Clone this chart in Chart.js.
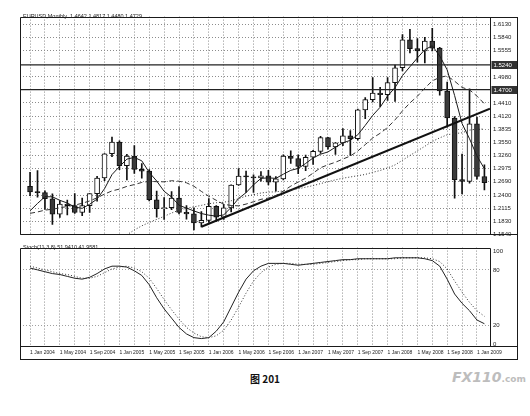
<!DOCTYPE html>
<html><head><meta charset="utf-8">
<script src="https://cdn.jsdelivr.net/npm/chart.js@4.4.1/dist/chart.umd.min.js"></script>
<style>
html,body{margin:0;padding:0;background:#fff;width:530px;height:416px;overflow:hidden;font-family:"Liberation Sans",Arial,sans-serif;}
#c1{position:absolute;left:19px;top:10px;}
#c2{position:absolute;left:19px;top:241px;}
.ttl{position:absolute;font-size:5.5px;line-height:6px;color:#222;white-space:nowrap;}
#cap{position:absolute;left:0;width:530px;top:371px;text-align:center;font:bold 10px "Noto Sans CJK SC",sans-serif;color:#111;}
#wm{position:absolute;left:452px;top:369px;font:bold italic 14px "DejaVu Sans",sans-serif;color:#bdbdbd;white-space:nowrap;}
#wm span{font-size:9px;font-style:normal;}
</style></head>
<body>
<canvas id="c1" width="499" height="231"></canvas>
<canvas id="c2" width="499" height="119"></canvas>
<div class="ttl" style="left:23px;top:13px;">EURUSD,Monthly&nbsp; 1.4642 1.4817 1.4480 1.4729</div>
<div class="ttl" style="left:23px;top:244px;">Stoch(11,3,8) 51.9410 41.9581</div>
<div id="cap">图 201</div>
<div id="wm">FX110<span>.com</span></div>
<script>
const months = ['Jan 2004','Feb 2004','Mar 2004','Apr 2004','May 2004','Jun 2004','Jul 2004','Aug 2004','Sep 2004','Oct 2004','Nov 2004','Dec 2004',
'Jan 2005','Feb 2005','Mar 2005','Apr 2005','May 2005','Jun 2005','Jul 2005','Aug 2005','Sep 2005','Oct 2005','Nov 2005','Dec 2005',
'Jan 2006','Feb 2006','Mar 2006','Apr 2006','May 2006','Jun 2006','Jul 2006','Aug 2006','Sep 2006','Oct 2006','Nov 2006','Dec 2006',
'Jan 2007','Feb 2007','Mar 2007','Apr 2007','May 2007','Jun 2007','Jul 2007','Aug 2007','Sep 2007','Oct 2007','Nov 2007','Dec 2007',
'Jan 2008','Feb 2008','Mar 2008','Apr 2008','May 2008','Jun 2008','Jul 2008','Aug 2008','Sep 2008','Oct 2008','Nov 2008','Dec 2008',
'Jan 2009','Feb 2009'];
const open = [1.2592,1.2466,1.2452,1.2318,1.1981,1.2203,1.2170,1.2018,1.2169,1.2431,1.2772,1.3302,
1.3554,1.3040,1.3252,1.2959,1.2923,1.2296,1.2100,1.2126,1.2335,1.2022,1.1989,1.1790,
1.1845,1.2155,1.1915,1.2118,1.2619,1.2812,1.2795,1.2771,1.2818,1.2678,1.2752,1.3249,
1.3198,1.3023,1.3225,1.3354,1.3654,1.3451,1.3540,1.3695,1.3628,1.4259,1.4482,1.4626,
1.4589,1.4854,1.5180,1.5788,1.5595,1.5545,1.5760,1.5609,1.4672,1.4081,1.2736,1.2697,
1.3953,1.2805];
const high = [1.2897,1.2932,1.2494,1.2428,1.2273,1.2290,1.2430,1.2334,1.2433,1.2810,1.3306,1.3667,
1.3583,1.3287,1.3479,1.3087,1.2958,1.2487,1.2345,1.2475,1.2586,1.2168,1.2118,1.2040,
1.2323,1.2170,1.2195,1.2624,1.2979,1.2923,1.2843,1.2914,1.2938,1.2804,1.3280,1.3367,
1.3280,1.3271,1.3374,1.3682,1.3660,1.3545,1.3853,1.3806,1.4279,1.4527,1.4967,1.4752,
1.4964,1.5240,1.5905,1.6019,1.5817,1.5843,1.6038,1.5624,1.4866,1.4115,1.3295,1.4719,
1.4100,1.3061];
const low = [1.2388,1.2354,1.2083,1.1760,1.1910,1.1968,1.2000,1.1951,1.2019,1.2268,1.2715,1.3236,
1.2955,1.2727,1.2871,1.2770,1.2273,1.1917,1.1869,1.2079,1.1986,1.1875,1.1640,1.1706,
1.1801,1.1825,1.1865,1.2031,1.2612,1.2456,1.2458,1.2705,1.2622,1.2483,1.2732,1.3091,
1.2864,1.2932,1.3067,1.3309,1.3401,1.3286,1.3476,1.3262,1.3595,1.4068,1.4431,1.4327,
1.4465,1.4442,1.5109,1.5505,1.5302,1.5286,1.5546,1.4579,1.3881,1.2329,1.2423,1.2661,
1.2748,1.2513];
const close = [1.2466,1.2452,1.2318,1.1981,1.2203,1.2170,1.2018,1.2169,1.2431,1.2772,1.3302,1.3554,
1.3040,1.3252,1.2959,1.2923,1.2296,1.2100,1.2126,1.2335,1.2022,1.1989,1.1790,1.1845,
1.2155,1.1915,1.2118,1.2619,1.2812,1.2795,1.2771,1.2818,1.2678,1.2752,1.3249,1.3198,
1.3023,1.3225,1.3354,1.3654,1.3451,1.3540,1.3695,1.3628,1.4259,1.4482,1.4626,1.4589,
1.4854,1.5180,1.5788,1.5595,1.5545,1.5760,1.5609,1.4672,1.4081,1.2736,1.2697,1.3953,
1.2805,1.2669];
const maFast = [1.2055,1.2216,1.2363,1.2361,1.2284,1.2225,1.2138,1.2108,1.2198,1.2312,1.2538,1.2846,
1.3020,1.3184,1.3221,1.3146,1.2894,1.2706,1.2481,1.2356,1.2176,1.2114,1.2052,1.1996,
1.1960,1.1939,1.1965,1.2130,1.2324,1.2452,1.2623,1.2763,1.2775,1.2763,1.2854,1.2939,
1.2980,1.3089,1.3210,1.3291,1.3341,1.3445,1.3539,1.3594,1.3715,1.3921,1.4138,1.4317,
1.4562,1.4746,1.5007,1.5201,1.5392,1.5574,1.5659,1.5436,1.5133,1.4572,1.3959,1.3628,
1.3254,1.2972];
const maMid = [1.2000,1.2030,1.2070,1.2090,1.2120,1.2150,1.2180,1.2220,1.2270,1.2340,1.2420,1.2490,
1.2529,1.2589,1.2628,1.2675,1.2699,1.2691,1.2688,1.2712,1.2701,1.2667,1.2591,1.2479,
1.2372,1.2285,1.2198,1.2172,1.2163,1.2202,1.2253,1.2306,1.2333,1.2389,1.2486,1.2594,
1.2685,1.2767,1.2878,1.2996,1.3060,1.3116,1.3185,1.3251,1.3362,1.3501,1.3645,1.3748,
1.3875,1.4041,1.4238,1.4411,1.4556,1.4734,1.4893,1.4968,1.5003,1.4886,1.4749,1.4697,
1.4560,1.4392];
const maSlow = [null,null,null,null,null,null,null,null,null,null,null,null,
1.1405,1.1530,1.1637,1.1727,1.1801,1.1868,1.1934,1.2007,1.2068,1.2112,1.2142,1.2174,
1.2210,1.2232,1.2242,1.2275,1.2321,1.2375,1.2408,1.2444,1.2464,1.2469,1.2492,1.2514,
1.2535,1.2571,1.2605,1.2649,1.2691,1.2731,1.2768,1.2794,1.2822,1.2849,1.2896,1.2935,
1.2991,1.3057,1.3160,1.3263,1.3363,1.3464,1.3569,1.3648,1.3716,1.3742,1.3758,1.3818,
1.3838,1.3840];
const stochMain = [82,80,78,76,75,73,71,70,72,76,81,84,
84,83,79,74,64,50,38,28,18,11,7,6,
7,14,24,40,56,70,79,84,87,87,87,86,
85,86,87,88,89,90,91,91,92,92,92,92,
92,93,93,93,93,92,90,84,70,54,44,36,
26,22];
const stochSignal = [84,82,80,78,76,75,73,71,71,73,77,81,
83,84,82,78,71,60,48,37,27,18,12,8,
7,9,15,26,40,55,68,77,83,86,87,87,
86,86,86,87,88,89,90,91,91,92,92,92,
92,92,93,93,93,93,92,89,81,68,56,45,
36,30];
const priceTicks = [1.1540,1.1830,1.2115,1.2400,1.2690,1.2975,1.3260,1.3550,1.3835,1.4120,1.4410,1.4980,1.5555,1.5840,1.6130];
const levelLines = [1.5240,1.4700];
const trendX = [23,61.75];
const trendY = [1.1706,1.4286];
const stochTicks = [0,20,80,100];
const gridMonths = [0,2,4,6,8,10,12,14,16,18,20,22,24,26,28,30,32,34,36,38,40,42,44,46,48,50,52,54,56,58,60];
const labelEvery = 4;
const X_MIN = -1.35, X_MAX = 61.75;

const FONT = 'Liberation Sans';
const pts = arr => arr.map((v,i)=>({x:i,y:v}));

function framePlugin(isTop){
  return {id:'frame'+(isTop?1:2), afterDraw(chart){
    const {ctx, chartArea:a, width, height} = chart;
    const l=Math.round(a.left)+0.5, t=Math.round(a.top)+0.5, r=Math.round(a.right)+0.5, b=Math.round(a.bottom)+0.5;
    ctx.save();
    ctx.strokeStyle='#1a1a1a'; ctx.lineWidth=1;
    ctx.beginPath();
    ctx.moveTo(l,t); ctx.lineTo(isTop?width:r,t);
    ctx.moveTo(l,t); ctx.lineTo(l,isTop?b:height);
    ctx.moveTo(l,b); ctx.lineTo(width,b);
    ctx.moveTo(r,t); ctx.lineTo(r,b);
    ctx.moveTo(width-0.5,isTop?t:0); ctx.lineTo(width-0.5,height);
    if(!isTop){ ctx.moveTo(l,height-0.5); ctx.lineTo(width,height-0.5); }
    ctx.stroke();
    if(isTop){
      const y = chart.scales.y;
      ctx.font = '6px "'+FONT+'"';
      ctx.textBaseline='middle';
      levelLines.forEach(v=>{
        const py = Math.round(y.getPixelForValue(v));
        ctx.fillStyle='#333';
        ctx.fillRect(r+1, py-4, width-r-2, 8);
        ctx.fillStyle='#fff';
        ctx.fillText(v.toFixed(4), r+3, py+0.5);
      });
    }
    ctx.restore();
  }};
}

const xCommon = {
  type:'linear', min:X_MIN, max:X_MAX, offset:false,
  afterBuildTicks: s => { s.ticks = gridMonths.map(v=>({value:v})); },
  grid:{offset:false, color:'#8c8c8c', lineWidth:1, drawTicks:false},
  border:{display:false, dash:[1,2]}
};

new Chart(document.getElementById('c1'), {
  type:'bar',
  data:{datasets:[
    {type:'line', data:pts(maFast), borderColor:'#1a1a1a', borderWidth:1, pointRadius:0, tension:0, order:0},
    {type:'line', data:pts(maMid), borderColor:'#333', borderWidth:1, borderDash:[5,3], pointRadius:0, tension:0, order:0},
    {type:'line', data:pts(maSlow), borderColor:'#333', borderWidth:1, borderDash:[1,2], pointRadius:0, tension:0, order:0, spanGaps:false},
    {type:'line', data:trendX.map((x,i)=>({x:x,y:trendY[i]})), borderColor:'#111', borderWidth:2.2, pointRadius:0, order:0},
    {type:'line', data:[{x:X_MIN,y:levelLines[0]},{x:X_MAX,y:levelLines[0]}], borderColor:'#222', borderWidth:1.2, pointRadius:0, order:0},
    {type:'line', data:[{x:X_MIN,y:levelLines[1]},{x:X_MAX,y:levelLines[1]}], borderColor:'#222', borderWidth:1.2, pointRadius:0, order:0},
    {type:'bar', data:open.map((o,i)=>({x:i,y:[o,close[i]]})),
      backgroundColor:open.map((o,i)=> Math.abs(close[i]-o)<0.002 ? '#111' : (close[i]>o ? '#ffffff' : '#3a3a3a')),
      borderColor:'#111', borderWidth:1, borderSkipped:false, barThickness:5, minBarLength:1, grouped:false, order:1},
    {type:'bar', data:low.map((l,i)=>({x:i,y:[l,high[i]]})), backgroundColor:'#111', borderWidth:0, barThickness:1, grouped:false, order:2}
  ]},
  options:{
    responsive:false, animation:false, devicePixelRatio:1,
    layout:{padding:{left:1, top:1, right:0, bottom:1}},
    plugins:{legend:{display:false}, tooltip:{enabled:false}},
    scales:{
      x:Object.assign({}, xCommon, {afterFit: s => { s.height = 0; }, ticks:{display:false}}),
      y:{position:'right', min:1.1540, max:1.6296,
        afterBuildTicks: s => { s.ticks = priceTicks.map(v=>({value:v})); },
        afterFit: s => { s.width = 28; },
        grid:{color:'#8c8c8c', drawTicks:false},
        border:{display:false, dash:[1,2]},
        ticks:{autoSkip:false, padding:3, font:{size:6, family:FONT}, color:'#222', callback: v => Number(v).toFixed(4)}}
    }
  },
  plugins:[framePlugin(true)]
});

new Chart(document.getElementById('c2'), {
  type:'line',
  data:{datasets:[
    {data:pts(stochMain), borderColor:'#222', borderWidth:1, pointRadius:0, tension:0},
    {data:pts(stochSignal), borderColor:'#333', borderWidth:1, borderDash:[1,2], pointRadius:0, tension:0}
  ]},
  options:{
    responsive:false, animation:false, devicePixelRatio:1,
    layout:{padding:{left:1, top:1, right:0, bottom:0}},
    plugins:{legend:{display:false}, tooltip:{enabled:false}},
    scales:{
      x:Object.assign({}, xCommon, {
        afterFit: s => { s.height = 14; },
        ticks:{autoSkip:false, maxRotation:0, minRotation:0, align:'start', padding:4,
          font:{size:5, family:FONT}, color:'#222',
          callback: v => (v % labelEvery === 0 ? '1 ' + months[v] : '')}}),
      y:{position:'right', min:-2, max:104,
        afterBuildTicks: s => { s.ticks = stochTicks.map(v=>({value:v})); },
        afterFit: s => { s.width = 28; },
        grid:{drawTicks:false, color: c => (c.tick && (c.tick.value===20 || c.tick.value===80)) ? '#a0a0a0' : 'rgba(0,0,0,0)'},
        border:{display:false, dash:[1,2]},
        ticks:{autoSkip:false, padding:3, font:{size:6, family:FONT}, color:'#222', callback: v => String(v)}}
    }
  },
  plugins:[framePlugin(false)]
});
</script>
</body></html>
